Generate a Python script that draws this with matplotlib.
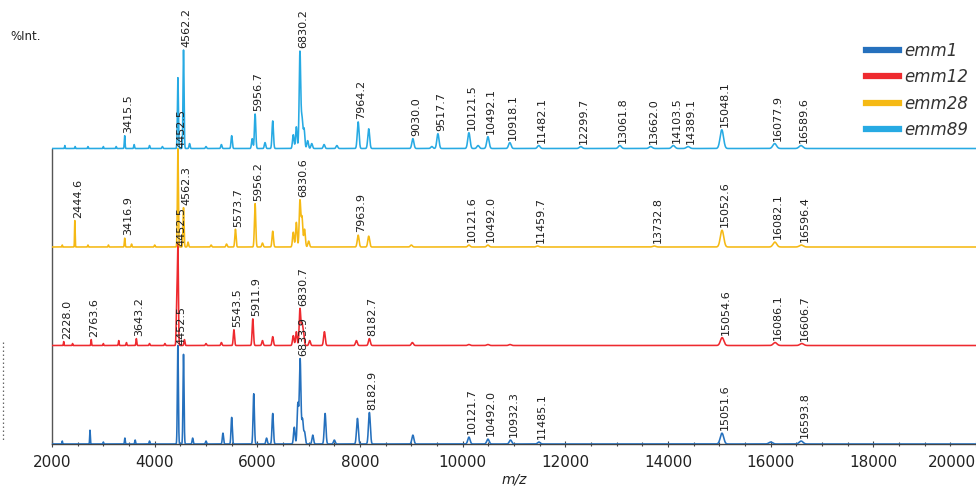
import numpy as np
import matplotlib
matplotlib.use("Agg")
import matplotlib.pyplot as plt
from matplotlib.lines import Line2D
from matplotlib.ticker import MultipleLocator

plt.rcParams["font.family"] = ["Liberation Sans Narrow", "DejaVu Sans"]

# ---------------------------------------------------------------------------
# Peak lists (m/z, relative intensity in % of the strongest peak)
# Labelled peaks carry their m/z as the annotation text.
# ---------------------------------------------------------------------------
STRAINS = ["emm1", "emm12", "emm28", "emm89"]
COLORS = ["#2570bd", "#ee2a2f", "#f5b914", "#27aae3"]

# emm89
EMM89_LAB_MZ = [3415.5, 4452.5, 4562.2, 5956.7, 6830.2, 7964.2, 9030.0, 9517.7,
                10121.5, 10492.1, 10918.1, 11482.1, 12299.7, 13061.8, 13662.0,
                14103.5, 14389.1, 15048.1, 16077.9, 16589.6]
EMM89_LAB_INT = [13, 72, 100, 35, 98, 27, 10, 15, 16, 12, 6, 3, 2, 3, 2, 3, 2, 19, 5, 3]
EMM89_MZ = [2250, 2450, 2700, 3000, 3250, 3600, 3900, 4150, 4680, 5000, 5300, 5500,
            5900, 6150, 6300, 6700, 6760, 6870, 6910, 6980, 7060, 7300, 7550, 8170,
            9400, 10300]
EMM89_INT = [3, 2, 2, 2, 2, 4, 3, 2, 5, 2, 4, 13, 10, 6, 28, 14, 22, 30, 20, 8, 5, 4,
             3, 20, 2, 3]

# emm28
EMM28_LAB_MZ = [2444.6, 3416.9, 4452.5, 4562.3, 5573.7, 5956.2, 6830.6, 7963.9,
                10121.6, 10492.0, 11459.7, 13732.8, 15052.6, 16082.1, 16596.4]
EMM28_LAB_INT = [27, 9, 100, 40, 18, 44, 47, 12, 2, 2, 1, 1, 17, 5, 2]
EMM28_MZ = [2200, 2700, 3100, 3550, 4000, 4650, 5100, 5400, 6100, 6300, 6700, 6760,
            6870, 6920, 7000, 8170, 9000]
EMM28_INT = [2, 2, 2, 3, 2, 5, 2, 3, 4, 16, 15, 25, 30, 18, 6, 11, 2]

# emm12
EMM12_LAB_MZ = [2228.0, 2763.6, 3643.2, 4452.5, 5543.5, 5911.9, 6830.7, 8182.7,
                15054.6, 16086.1, 16606.7]
EMM12_LAB_INT = [4, 6, 7, 100, 16, 27, 37, 7, 8, 3, 2]
EMM12_MZ = [2400, 3000, 3300, 3450, 3900, 4200, 4430, 4580, 5000, 5300, 6100, 6300,
            6700, 6760, 6870, 6900, 7020, 7307, 7930, 9020, 10120, 10490, 10920]
EMM12_INT = [2, 2, 5, 3, 2, 2, 45, 6, 2, 3, 5, 9, 10, 14, 20, 12, 5, 14, 5, 3, 1, 1, 1]

# emm1
EMM1_LAB_MZ = [6833.9, 8182.9, 10121.7, 10492.0, 10932.3, 11485.1, 15051.6, 16593.8]
EMM1_LAB_INT = [86, 32, 7, 5, 4, 2, 11, 3]
EMM1_MZ = [2200, 2740, 3000, 3420, 3620, 3900, 4452, 4562, 4740, 5000, 5330, 5500,
           5930, 6180, 6300, 6720, 6790, 6880, 6920, 7080, 7320, 7500, 7950, 9030,
           16000]
EMM1_INT = [3, 14, 2, 6, 4, 3, 100, 91, 6, 3, 11, 27, 51, 6, 31, 17, 41, 25, 12, 9,
            31, 4, 26, 9, 2]

LAB_MZ = [EMM1_LAB_MZ, EMM12_LAB_MZ, EMM28_LAB_MZ, EMM89_LAB_MZ]
LAB_INT = [EMM1_LAB_INT, EMM12_LAB_INT, EMM28_LAB_INT, EMM89_LAB_INT]
OTHER_MZ = [EMM1_MZ, EMM12_MZ, EMM28_MZ, EMM89_MZ]
OTHER_INT = [EMM1_INT, EMM12_INT, EMM28_INT, EMM89_INT]

# labels written at the baseline rather than above the peak
BASELINE_LABELS = {4452.5}

X_TICKS = [2000, 4000, 6000, 8000, 10000, 12000, 14000, 16000, 18000, 20000]

# ---------------------------------------------------------------------------
PANEL_STEP = 98.5          # vertical offset between stacked spectra
SIGMA_REL = 0.0022         # peak width grows with m/z (linear TOF)
MZ = np.arange(2000, 20001, 2.0)


def profile(mz_list, int_list):
    y = np.zeros_like(MZ)
    for m, h in zip(mz_list, int_list):
        s = SIGMA_REL * m
        y += h * np.exp(-0.5 * ((MZ - m) / s) ** 2)
    return y


fig = plt.figure(figsize=(9.76, 4.86), dpi=100)
ax = fig.add_axes([52 / 976, 1 - 444 / 486, 1 - 52 / 976, 444 / 486])
ax.set_xlim(2000, 20000)
ax.set_ylim(0, 444)

scale = PANEL_STEP / 100.0
for i in range(4):
    off = i * PANEL_STEP
    y = profile(list(LAB_MZ[i]) + list(OTHER_MZ[i]),
                list(LAB_INT[i]) + list(OTHER_INT[i])) * scale + off
    ax.plot(MZ, y, color=COLORS[i], lw=1.15, zorder=3 + i)
    for m in LAB_MZ[i]:
        if m in BASELINE_LABELS:
            ytxt, dy = off, 0.5
        else:
            ytxt, dy = np.interp(m, MZ, y), 2.0
        ax.annotate(f"{m:.1f}", xy=(m, ytxt), xytext=(2.3, dy),
                    textcoords="offset points", rotation=90, ha="center",
                    va="bottom", fontsize=8, color="#1e1e1e", zorder=10,
                    annotation_clip=False)

# axes styling
for s in ("top", "right"):
    ax.spines[s].set_visible(False)
ax.spines["left"].set_bounds(0, 3 * PANEL_STEP)
ax.spines["left"].set_color("#555555")
ax.spines["bottom"].set_color("#444444")
ax.spines["left"].set_linewidth(1.0)
ax.spines["bottom"].set_linewidth(1.0)
ax.set_yticks([])
ax.set_xticks(X_TICKS)
ax.set_xticklabels([str(t) for t in X_TICKS])
ax.xaxis.set_minor_locator(MultipleLocator(500))
ax.tick_params(axis="x", which="major", direction="inout", length=4, width=0.8,
               color="#444444", labelsize=11, pad=6, labelcolor="#222222")
ax.tick_params(axis="x", which="minor", direction="inout", length=3, width=0.8,
               color="#444444")
ax.get_xticklabels()[-1].set_horizontalalignment("right")
ax.set_xlabel("m/z", style="italic", fontsize=10, labelpad=2, color="#222222")

fig.text(10 / 976, 1 - 36 / 486, "%Int.", fontsize=8.5, va="center",
         color="#222222")

# partial intensity scale at the far left
fig.add_artist(Line2D([3 / 976, 3 / 976], [1 - 342 / 486, 1 - 442 / 486],
                      transform=fig.transFigure, color="#666666", lw=0.9,
                      ls=(0, (1.2, 2.0))))

handles = [Line2D([], [], color=c, lw=4.5) for c in COLORS]
ax.legend(handles, STRAINS, loc="upper left",
          bbox_to_anchor=(866 / 976, 1 - 42 / 486), bbox_transform=fig.transFigure,
          frameon=False, handlelength=2.0, handletextpad=0.3, labelspacing=0.5,
          borderpad=0, borderaxespad=0,
          prop={"style": "italic", "size": 12})
for t in ax.get_legend().get_texts():
    t.set_color("#333333")

fig.savefig("out.png", dpi=100)
